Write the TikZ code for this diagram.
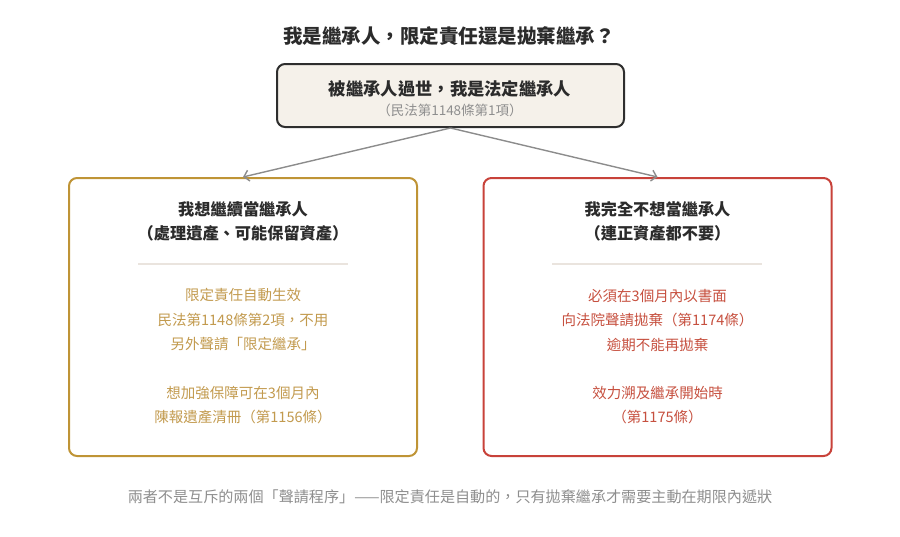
\documentclass[tikz,border=0pt]{standalone}
\usepackage{fontspec}
\setmainfont{Noto Sans CJK TC}
\newfontfamily\cjk{Noto Sans CJK TC}
\usetikzlibrary{arrows.meta}
\definecolor{topfill}{HTML}{F5F1EA}
\definecolor{topborder}{HTML}{2E2E2E}
\definecolor{goldc}{HTML}{BF9436}
\definecolor{goldtext}{HTML}{C29A4E}
\definecolor{redc}{HTML}{C8423A}
\definecolor{redtext}{HTML}{C6503F}
\definecolor{sepc}{HTML}{EAE4DE}
\definecolor{arrowc}{HTML}{8C8C8C}
\definecolor{darktext}{HTML}{2B2B2B}
\definecolor{graytext}{HTML}{8E8E8E}
\tikzset{
  card/.style={draw, rounded corners=8pt, line width=2pt, inner sep=0pt},
  heading/.style={font=\cjk\bfseries\fontsize{16.2}{24}\selectfont, text=darktext, align=center},
  body/.style={font=\cjk\fontsize{14.5}{24.5}\selectfont, align=center},
  sepline/.style={draw=sepc, line width=1.2pt},
  link/.style={draw=arrowc, line width=1.4pt, -{Straight Barb[length=5pt,width=11pt]}},
}
\begin{document}
\begin{tikzpicture}[x=1pt,y=-1pt]
\useasboundingbox (0,0) rectangle (900,536);
\node[font=\cjk\bfseries\fontsize{19.5}{22}\selectfont, text=darktext] (title) at (449,36) {我是繼承人，限定責任還是拋棄繼承？};
\node[card, draw=topborder, fill=topfill, minimum width=347pt, minimum height=63pt] (top) at (450.5,95.5) {};
\node[font=\cjk\bfseries\fontsize{17.3}{20}\selectfont, text=darktext] (toptext) at (450,89) {被繼承人過世，我是法定繼承人};
\node[font=\cjk\fontsize{13.5}{16}\selectfont, text=graytext] (topsub) at (450,110) {（民法第1148條第1項）};
\node[card, draw=goldc, minimum width=348pt, minimum height=278pt] (left) at (243,317) {};
\node[card, draw=redc, minimum width=348pt, minimum height=278pt] (right) at (657.5,317) {};
\draw[link] (top.south) -- (left.north);
\draw[link] (top.south) -- (right.north);
\node[heading] (lh) at (243,221) {我想繼續當繼承人\\（處理遺產、可能保留資產）};
\node[heading] (rh) at (657.5,221) {我完全不想當繼承人\\（連正資產都不要）};
\draw[sepline] (138,264) -- (348,264);
\draw[sepline] (552,264) -- (762,264);
\node[body, text=goldtext] (lb1) at (243,320) {限定責任自動生效\\民法第1148條第2項，不用\\另外聲請「限定繼承」};
\node[body, text=goldtext] (lb2) at (243,405) {想加強保障可在3個月內\\陳報遺產清冊（第1156條）};
\node[body, text=redtext] (rb1) at (657.5,320) {必須在3個月內以書面\\向法院聲請拋棄（第1174條）\\逾期不能再拋棄};
\node[body, text=redtext] (rb2) at (657.5,405) {效力溯及繼承開始時\\（第1175條）};
\node[font=\cjk\fontsize{15.1}{18}\selectfont, text=graytext] (foot) at (450,497) {兩者不是互斥的兩個「聲請程序」——限定責任是自動的，只有拋棄繼承才需要主動在期限內遞狀};
\end{tikzpicture}
\end{document}
